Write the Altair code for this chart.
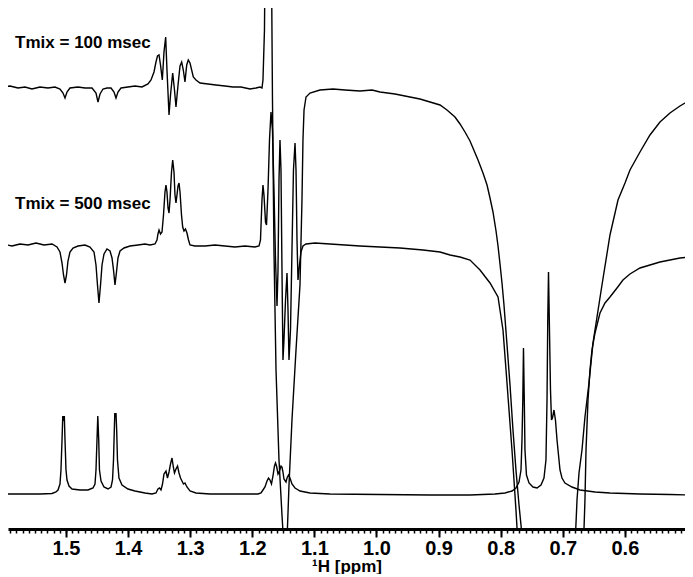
import altair as alt
import pandas as pd

# ---------------- data (ppm, intensity relative to each trace's baseline) -------------
top_ppm = [1.6014, 1.5902, 1.5773, 1.5660, 1.5548, 1.5419, 1.5290, 1.5177, 1.5097, 1.5048,
           1.5016, 1.4984, 1.4936, 1.4807, 1.4694, 1.4581, 1.4517, 1.4485, 1.4452, 1.4404,
           1.4340, 1.4275, 1.4227, 1.4195, 1.4163, 1.4114, 1.4002, 1.3889, 1.3776, 1.3680,
           1.3631, 1.3583, 1.3551, 1.3527, 1.3502, 1.3478, 1.3449, 1.3422, 1.3395, 1.3374,
           1.3341, 1.3317, 1.3282, 1.3253, 1.3229, 1.3196, 1.3164, 1.3137, 1.3111, 1.3084,
           1.3056, 1.3031, 1.3003, 1.2950, 1.2907, 1.2842, 1.2713, 1.2585, 1.2440, 1.2311,
           1.2182, 1.2037, 1.1940, 1.1876, 1.1844, 1.1828, 1.1804, 1.1780, 1.1739, 1.1699,
           1.1675, 1.1651, 1.1618, 1.1570, 1.1522, 1.1473, 1.1441, 1.1409, 1.1361, 1.1296,
           1.1232, 1.1200, 1.1184, 1.1167, 1.1135, 1.1071, 1.0910, 1.0700, 1.0507, 1.0266,
           1.0072, 0.9944, 0.9702, 0.9461, 0.9300, 0.9138, 0.8977, 0.8865, 0.8736, 0.8655,
           0.8575, 0.8494, 0.8365, 0.8285, 0.8220, 0.8172, 0.8124, 0.8075, 0.8043, 0.8011,
           0.7979, 0.7947, 0.7898, 0.7850, 0.7802, 0.7754, 0.7705, 0.7657, 0.7609, 0.7206,
           0.6820, 0.6771, 0.6739, 0.6691, 0.6643, 0.6578, 0.6514, 0.6449, 0.6369, 0.6240,
           0.6111, 0.5998, 0.5918, 0.5757, 0.5596, 0.5435, 0.5274, 0.5113, 0.4952]
top_int = [1, 2, 0, 1, -1, 1, 0, 1, -1, -5,
           -10, -4, 0, 1, 0, 0, -5, -14, -6, -1,
           0, 0, -4, -10, -4, 0, 1, 2, 1, 4,
           8, 16, 26, 32, 33, 23, 8, 36, 51, 18,
           -27, -7, 15, -2, -19, 3, 22, 26, 18, 6,
           23, 28, 25, 11, 8, 5, 4, 3, 2, 1,
           1, -1, 0, 1, 0, 8, 58, 238, 438, 188,
           -12, -162, -282, -372, -427, -477, -452, -397, -332, -262,
           -197, -112, -52, -22, -9, -5, -2, -1, -2, -3,
           -2, -4, -6, -9, -11, -14, -17, -22, -29, -36,
           -44, -53, -72, -85, -97, -110, -124, -143, -158, -176,
           -195, -217, -257, -297, -342, -382, -417, -447, -482, -812,
           -482, -412, -385, -362, -329, -295, -255, -229, -197, -147,
           -112, -95, -82, -64, -47, -34, -25, -18, -12]

mid_ppm = [1.6014, 1.5870, 1.5741, 1.5612, 1.5483, 1.5354, 1.5225, 1.5145, 1.5097, 1.5064,
           1.5040, 1.5016, 1.4992, 1.4968, 1.4936, 1.4887, 1.4807, 1.4694, 1.4614, 1.4549,
           1.4517, 1.4493, 1.4469, 1.4444, 1.4420, 1.4388, 1.4340, 1.4291, 1.4259, 1.4235,
           1.4211, 1.4187, 1.4163, 1.4130, 1.4066, 1.3969, 1.3841, 1.3728, 1.3647, 1.3567,
           1.3535, 1.3519, 1.3502, 1.3478, 1.3454, 1.3430, 1.3406, 1.3390, 1.3374, 1.3357,
           1.3341, 1.3325, 1.3301, 1.3282, 1.3261, 1.3245, 1.3229, 1.3213, 1.3196, 1.3180,
           1.3164, 1.3140, 1.3121, 1.3100, 1.3076, 1.3052, 1.3027, 1.3003, 1.2923, 1.2762,
           1.2601, 1.2440, 1.2279, 1.2118, 1.1957, 1.1892, 1.1868, 1.1844, 1.1828, 1.1812,
           1.1787, 1.1771, 1.1747, 1.1723, 1.1699, 1.1675, 1.1651, 1.1626, 1.1602, 1.1586,
           1.1570, 1.1554, 1.1538, 1.1522, 1.1506, 1.1490, 1.1465, 1.1441, 1.1425, 1.1409,
           1.1385, 1.1361, 1.1337, 1.1312, 1.1296, 1.1280, 1.1264, 1.1240, 1.1216, 1.1184,
           1.1135, 1.0990, 1.0749, 1.0507, 1.0266, 0.9944, 0.9622, 0.9251, 0.8977, 0.8816,
           0.8655, 0.8494, 0.8333, 0.8172, 0.8043, 0.7963, 0.7914, 0.7866, 0.7818, 0.7786,
           0.7754, 0.7721, 0.7206, 0.6675, 0.6643, 0.6626, 0.6594, 0.6562, 0.6530, 0.6481,
           0.6401, 0.6320, 0.6240, 0.6127, 0.6031, 0.5918, 0.5757, 0.5596, 0.5435, 0.5274,
           0.5113, 0.4952]
mid_int = [1, -1, 1, 0, 2, 0, 1, -2, -7, -18,
           -30, -38, -30, -16, -7, -3, -1, 0, -2, -7,
           -20, -40, -58, -40, -20, -9, -4, -6, -13, -25,
           -40, -27, -13, -6, -3, -1, 0, 1, 0, 1,
           5, 11, 15, 11, 13, 30, 53, 60, 53, 37,
           32, 45, 73, 85, 73, 50, 42, 50, 59, 62,
           53, 30, 18, 14, 16, 12, 5, 0, -1, -1,
           0, -1, -2, -1, -2, -1, 5, 45, 60, 50,
           23, 20, 55, 105, 133, 115, 55, -15, -61, -25,
           65, 105, 75, -25, -115, -95, -55, -28, -65, -115,
           -85, -5, 75, 102, 75, 5, -35, -20, -7, -1,
           1, 2, 1, 0, -1, -2, -3, -5, -7, -10,
           -12, -15, -25, -38, -52, -85, -125, -165, -205, -235,
           -265, -300, -655, -315, -255, -205, -155, -125, -105, -88,
           -68, -58, -52, -43, -35, -29, -23, -20, -17, -15,
           -13, -12]

bot_ppm = [1.6014, 1.5741, 1.5419, 1.5225, 1.5161, 1.5129, 1.5097, 1.5081, 1.5064, 1.5052,
           1.5040, 1.5027, 1.5016, 1.5000, 1.4984, 1.4952, 1.4903, 1.4775, 1.4646, 1.4565,
           1.4533, 1.4517, 1.4501, 1.4488, 1.4473, 1.4461, 1.4436, 1.4388, 1.4324, 1.4275,
           1.4251, 1.4235, 1.4222, 1.4214, 1.4204, 1.4195, 1.4184, 1.4171, 1.4147, 1.4098,
           1.4002, 1.3889, 1.3728, 1.3615, 1.3551, 1.3519, 1.3494, 1.3470, 1.3446, 1.3422,
           1.3390, 1.3366, 1.3341, 1.3317, 1.3293, 1.3269, 1.3253, 1.3229, 1.3204, 1.3180,
           1.3156, 1.3132, 1.3108, 1.3084, 1.3052, 1.3003, 1.2907, 1.2681, 1.2359, 1.2037,
           1.1908, 1.1860, 1.1828, 1.1796, 1.1763, 1.1739, 1.1715, 1.1691, 1.1667, 1.1643,
           1.1626, 1.1610, 1.1586, 1.1562, 1.1538, 1.1522, 1.1506, 1.1490,
           1.1457, 1.1441, 1.1417, 1.1393, 1.1361, 1.1312, 1.1232, 1.1071, 1.0749, 0.9944,
           0.9138, 0.8494, 0.8092, 0.7931, 0.7818, 0.7754, 0.7705, 0.7673, 0.7657, 0.7644,
           0.7633, 0.7620, 0.7609, 0.7585, 0.7544, 0.7480, 0.7415, 0.7351, 0.7303, 0.7271,
           0.7254, 0.7242, 0.7230, 0.7217, 0.7198, 0.7182, 0.7166, 0.7142, 0.7118, 0.7093,
           0.7061, 0.7045, 0.7013, 0.6965, 0.6852, 0.6723, 0.6481, 0.6240, 0.5757, 0.5274,
           0.4952]
bot_int = [0, 0, 0, 0.5, 2, 4, 10, 24, 54, 78,
           73, 78, 54, 24, 14, 8, 5, 4, 4, 6,
           10, 24, 54, 78, 54, 24, 13, 7, 5, 7,
           14, 34, 64, 81, 77, 81, 64, 34, 16, 9,
           5, 3, 1, 0, 1, 5, 6, 4, 10, 20,
           23, 16, 22, 30, 36, 26, 21, 25, 28, 21,
           16, 13, 10, 11, 7, 3, 1, 0, 0, 0,
           0, 1, 4, 7, 13, 16, 14, 10, 18, 28,
           31, 28, 20, 23, 28, 27, 22, 15,
           12, 16, 19, 16, 10, 6, 3, 1, 0, -0.5,
           -1, -1, 0, 1, 3, 6, 12, 24, 54, 94,
           146, 94, 44, 19, 11, 7, 6, 9, 16, 34,
           94, 174, 222, 174, 104, 74, 76, 84, 74, 54,
           34, 24, 16, 11, 7, 4, 2, 1, 0, -0.5,
           -1]

trace_names = ["Tmix = 100 msec", "Tmix = 500 msec", "reference"]
trace_offsets = [447, 290, 41]          # vertical stacking offset of each trace
label_texts = ["Tmix = 100 msec", "Tmix = 500 msec"]
label_ppm = [1.582, 1.582]
label_int = [492, 331]

major_ticks = [1.5, 1.4, 1.3, 1.2, 1.1, 1.0, 0.9, 0.8, 0.7, 0.6]
minor_ticks = [round(1.59 - 0.01 * i, 2) for i in range(109)]

# ---------------- table ----------------
rows = []
for name, off, xs, ys in zip(trace_names, trace_offsets,
                             [top_ppm, mid_ppm, bot_ppm],
                             [top_int, mid_int, bot_int]):
    for i, (p, v) in enumerate(zip(xs, ys)):
        rows.append({"trace": name, "ppm": p, "v": off + v, "idx": i})
df = pd.DataFrame(rows)
labels = pd.DataFrame({"text": label_texts, "ppm": label_ppm, "v": label_int})

FONT = "Liberation Sans"
xscale = alt.Scale(domain=[1.5934, 0.5032], nice=False, zero=False)
yscale = alt.Scale(domain=[6, 527], nice=False, zero=False)

lines = alt.Chart(df).mark_line(color="black", strokeWidth=1.4, clip=True).encode(
    x=alt.X("ppm:Q", scale=xscale,
            axis=alt.Axis(values=major_ticks, format=".1f", labelFont=FONT,
                          labelFontSize=20, labelFontWeight="bold", labelColor="black",
                          labelPadding=1, tickSize=8, tickWidth=2, tickColor="black",
                          domainColor="black", domainWidth=3, grid=False,
                          labelFlush=False, title="¹H [ppm]", titleFont=FONT,
                          titleFontSize=17, titleFontWeight="bold", titleColor="black",
                          titlePadding=0)),
    y=alt.Y("v:Q", scale=yscale, axis=None),
    detail="trace:N",
    order="idx:Q",
)

text = alt.Chart(labels).mark_text(align="left", baseline="middle", font=FONT,
                                   fontSize=17, fontWeight="bold", color="black").encode(
    x=alt.X("ppm:Q", scale=xscale,
            axis=alt.Axis(values=minor_ticks, labels=False, domain=False, tickSize=4,
                          tickWidth=1.5, tickColor="black", grid=False, title=None,
                          orient="bottom")),
    y=alt.Y("v:Q", scale=yscale, axis=None),
    text="text:N",
)

chart = alt.layer(lines, text).resolve_axis(x="independent").properties(
    width=677, height=521, padding=0
).configure_view(stroke=None)

chart.save("out.html", embed_options={"renderer": "svg", "actions": False})
